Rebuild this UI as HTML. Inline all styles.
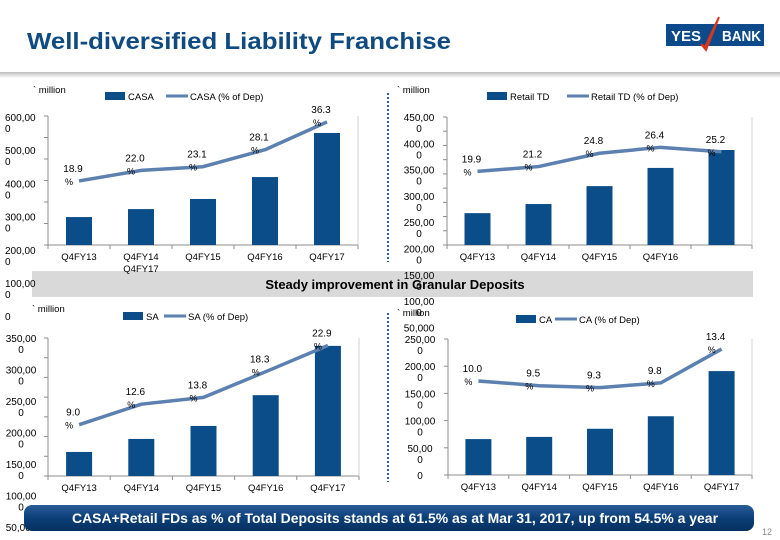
<!DOCTYPE html>
<html><head><meta charset="utf-8"><style>
html,body{margin:0;padding:0;background:#fff}
svg{display:block;font-family:"Liberation Sans",Arial,sans-serif}
</style></head><body>
<svg id="root" width="780" height="540" viewBox="0 0 780 540" xmlns="http://www.w3.org/2000/svg">
<defs>
<linearGradient id="shadow" x1="0" y1="0" x2="0" y2="1"><stop offset="0" stop-color="#bdbdbd"/><stop offset="1" stop-color="#ffffff"/></linearGradient>
<linearGradient id="banner" x1="0" y1="0" x2="0" y2="1"><stop offset="0" stop-color="#2a5d98"/><stop offset="0.5" stop-color="#0c3f78"/><stop offset="1" stop-color="#06305f"/></linearGradient>
</defs>
<text x="27" y="49" font-size="23" font-weight="bold" fill="#0f4a80" textLength="424" lengthAdjust="spacingAndGlyphs">Well-diversified Liability Franchise</text>
<g>
<rect x="666" y="24" width="98" height="22" fill="#0d4a8c"/>
<text x="671" y="41" font-size="15" font-weight="bold" fill="#fff" textLength="30" lengthAdjust="spacingAndGlyphs">YES</text>
<text x="722" y="41" font-size="15" font-weight="bold" fill="#fff" textLength="39" lengthAdjust="spacingAndGlyphs">BANK</text>
<path d="M719 17 L706 50 L701 44 L705 47 Z" fill="#d9361c" stroke="#d9361c" stroke-width="2"/>
</g>
<rect x="0" y="72" width="780" height="6" fill="url(#shadow)"/>
<line x1="388" y1="93" x2="388" y2="262" stroke="#2a62a8" stroke-width="2" stroke-dasharray="2,2"/>
<line x1="388" y1="313" x2="388" y2="482" stroke="#2a62a8" stroke-width="2" stroke-dasharray="2,2"/>
<rect x="32" y="271" width="721" height="26" fill="#d9d9d9"/>
<text x="395" y="289" font-size="13" font-weight="bold" fill="#000" text-anchor="middle">Steady improvement in Granular Deposits</text>
<g id="charts"></g>
<rect x="24" y="505" width="730" height="26" rx="8" fill="url(#banner)"/>
<text x="72" y="523" font-size="14" font-weight="bold" fill="#fff" textLength="646" lengthAdjust="spacingAndGlyphs">CASA+Retail FDs as % of Total Deposits stands at 61.5% as at Mar 31, 2017, up from 54.5% a year</text>
<text x="762" y="535" font-size="9" fill="#888">12</text>
</svg>
<script>
// ---- Chart data ----
const casaCategories = ["Q4FY13", "Q4FY14\nQ4FY17", "Q4FY15", "Q4FY16", "Q4FY17"];
const casaValues = [130000, 167000, 214000, 316000, 521000];
const casaPct = [18.9, 22.0, 23.1, 28.1, 36.3];
const casaTicks = ["600,00\n0", "500,00\n0", "400,00\n0", "300,00\n0", "200,00\n0", "100,00\n0", "0"];

const retailCategories = ["Q4FY13", "Q4FY14", "Q4FY15", "Q4FY16", ""];
const retailValues = [112000, 144000, 207000, 271000, 334000];
const retailPct = [19.9, 21.2, 24.8, 26.4, 25.2];
const retailTicks = ["450,00\n0", "400,00\n0", "350,00\n0", "300,00\n0", "250,00\n0", "200,00\n0", "150,00\n0", "100,00\n0", "50,000"];

const saCategories = ["Q4FY13", "Q4FY14", "Q4FY15", "Q4FY16", "Q4FY17"];
const saValues = [61000, 94000, 127000, 205000, 330000];
const saPct = [9.0, 12.6, 13.8, 18.3, 22.9];
const saTicks = ["350,00\n0", "300,00\n0", "250,00\n0", "200,00\n0", "150,00\n0", "100,00\n0", "50,000"];

const caCategories = ["Q4FY13", "Q4FY14", "Q4FY15", "Q4FY16", "Q4FY17"];
const caValues = [66000, 70000, 85000, 108000, 191000];
const caPct = [10.0, 9.5, 9.3, 9.8, 13.4];
const caTicks = ["250,00\n0", "200,00\n0", "150,00\n0", "100,00\n0", "50,00\n0", "0"];

const NS = "http://www.w3.org/2000/svg";
const root = document.getElementById("charts");
function mk(tag, attrs, parent, txt) {
  const e = document.createElementNS(NS, tag);
  for (const k in attrs) e.setAttribute(k, attrs[k]);
  if (txt !== undefined) e.textContent = txt;
  (parent || root).appendChild(e);
  return e;
}

function drawChart(c) {
  const g = mk("g", {});
  
  
  const yScale = v => c.bottom - v / c.max * (c.bottom - c.top);
  const pScale = p => c.pBase - p * c.pStep;
  const n = c.cats.length;
  const band = (c.right - c.left) / n;
  const xScale = i => c.left + band * (i + 0.5);
  const ax = mk("line", {x1: c.left, y1: c.bottom, x2: c.right, y2: c.bottom, stroke: "#8c8c8c", "stroke-width": 1}, g);
  
  
  const ay = mk("line", {x1: c.left, y1: c.top, x2: c.left, y2: c.bottom, stroke: "#8c8c8c", "stroke-width": 1}, g);
  
  
  const ar = mk("line", {x1: c.right, y1: c.top, x2: c.right, y2: c.bottom, stroke: "#d0d0d0", "stroke-width": 1}, g);
  
  
  for (let k = 0; k < c.nTickMarks; k++) {
    const yy = c.top + k * (c.bottom - c.top) / (c.nTickMarks - 1);
    mk("line", {x1: c.left - 4, y1: yy, x2: c.left, y2: yy, stroke: "#8c8c8c"}, g);
  }
  for (let i = 0; i <= n; i++) {
    const xx = c.left + band * i;
    mk("line", {x1: xx, y1: c.bottom, x2: xx, y2: c.bottom + 4, stroke: "#8c8c8c"}, g);
  }
  c.ticks.forEach((t, k) => {
    const y0 = c.tickStart + k * c.tickGap;
    const lines = t.split("\n");
    lines.forEach((ln, j) => {
      const tx = mk("text", {x: c.tickX, y: y0 + 4 + j * 11, "font-size": 10, fill: "#000", "text-anchor": c.tickAnchor}, g, ln);
      
      
    });
  });
  c.vals.forEach((v, i) => {
    const y = yScale(v);
    const r = mk("rect", {x: xScale(i) - 13, y: y, width: 26, height: c.bottom - y, fill: "#0b4d89"}, g);
    
    
  });
  const pts = c.pct.map((p, i) => xScale(i) + "," + pScale(p)).join(" ");
  const pl = mk("polyline", {points: pts, fill: "none", stroke: "#5c80b0", "stroke-width": 3.5, "stroke-linejoin": "round"}, g);
  
  
  c.pct.forEach((p, i) => {
    const x = xScale(i), y = pScale(p);
    const t1 = mk("text", {x: x - 6, y: y - 9, "font-size": 10, fill: "#000", "text-anchor": "middle"}, g, p.toFixed(1));
    
    
    const t2 = mk("text", {x: x - 10, y: y + 4, "font-size": 9, fill: "#000", "text-anchor": "middle"}, g, "%");
    
    
  });
  c.cats.forEach((cat, i) => {
    cat.split("\n").forEach((ln, j) => {
      const t = mk("text", {x: xScale(i), y: c.bottom + 15 + j * 12, "font-size": 9.5, fill: "#000", "text-anchor": "middle"}, g, ln);
      
      
    });
  });
  const u = mk("text", {x: c.unitX, y: c.unitY, "font-size": 9.5, fill: "#000"}, g, "` million");
  
  
  const lr = mk("rect", {x: c.legX, y: c.legY - 4, width: 20, height: 8, fill: "#0b4d89"}, g);
  
  
  const lt = mk("text", {x: c.legX + 23, y: c.legY + 4, "font-size": 9.5, fill: "#000"}, g, c.barLabel);
  
  
  const ll = mk("line", {x1: c.legLineX, y1: c.legY, x2: c.legLineX + 22, y2: c.legY, stroke: "#5c80b0", "stroke-width": 3}, g);
  
  
  const lt2 = mk("text", {x: c.legLineX + 24, y: c.legY + 4, "font-size": 9.5, fill: "#000"}, g, c.lineLabel);
  
  
}

drawChart({name: "casa-chart", cats: casaCategories, vals: casaValues, pct: casaPct, ticks: casaTicks,
  left: 48, right: 358, top: 116, bottom: 245, max: 600000, pBase: 245, pStep: 3.39, nTickMarks: 7,
  tickStart: 117, tickGap: 33.2, tickX: 5, tickAnchor: "start",
  unitX: 33, unitY: 93, legX: 105, legY: 96, legLineX: 166, barLabel: "CASA", lineLabel: "CASA (% of Dep)"});
drawChart({name: "retail-td-chart", cats: retailCategories, vals: retailValues, pct: retailPct, ticks: retailTicks,
  left: 447, right: 752, top: 117, bottom: 245, max: 450000, pBase: 245, pStep: 3.7, nTickMarks: 10,
  tickStart: 117, tickGap: 26.3, tickX: 419, tickAnchor: "middle",
  unitX: 397, unitY: 93, legX: 487, legY: 96, legLineX: 567, barLabel: "Retail TD", lineLabel: "Retail TD (% of Dep)"});
drawChart({name: "sa-chart", cats: saCategories, vals: saValues, pct: saPct, ticks: saTicks,
  left: 48, right: 359, top: 338, bottom: 476, max: 350000, pBase: 476, pStep: 5.7, nTickMarks: 8,
  tickStart: 338, tickGap: 31.5, tickX: 21, tickAnchor: "middle",
  unitX: 32, unitY: 312, legX: 123, legY: 316, legLineX: 164, barLabel: "SA", lineLabel: "SA (% of Dep)"});
drawChart({name: "ca-chart", cats: caCategories, vals: caValues, pct: caPct, ticks: caTicks,
  left: 448, right: 752, top: 339, bottom: 475, max: 250000, pBase: 475, pStep: 9.4, nTickMarks: 6,
  tickStart: 339, tickGap: 27.2, tickX: 420, tickAnchor: "middle",
  unitX: 397, unitY: 316, legX: 516, legY: 319, legLineX: 555, barLabel: "CA", lineLabel: "CA (% of Dep)"});
</script>
</body></html>
